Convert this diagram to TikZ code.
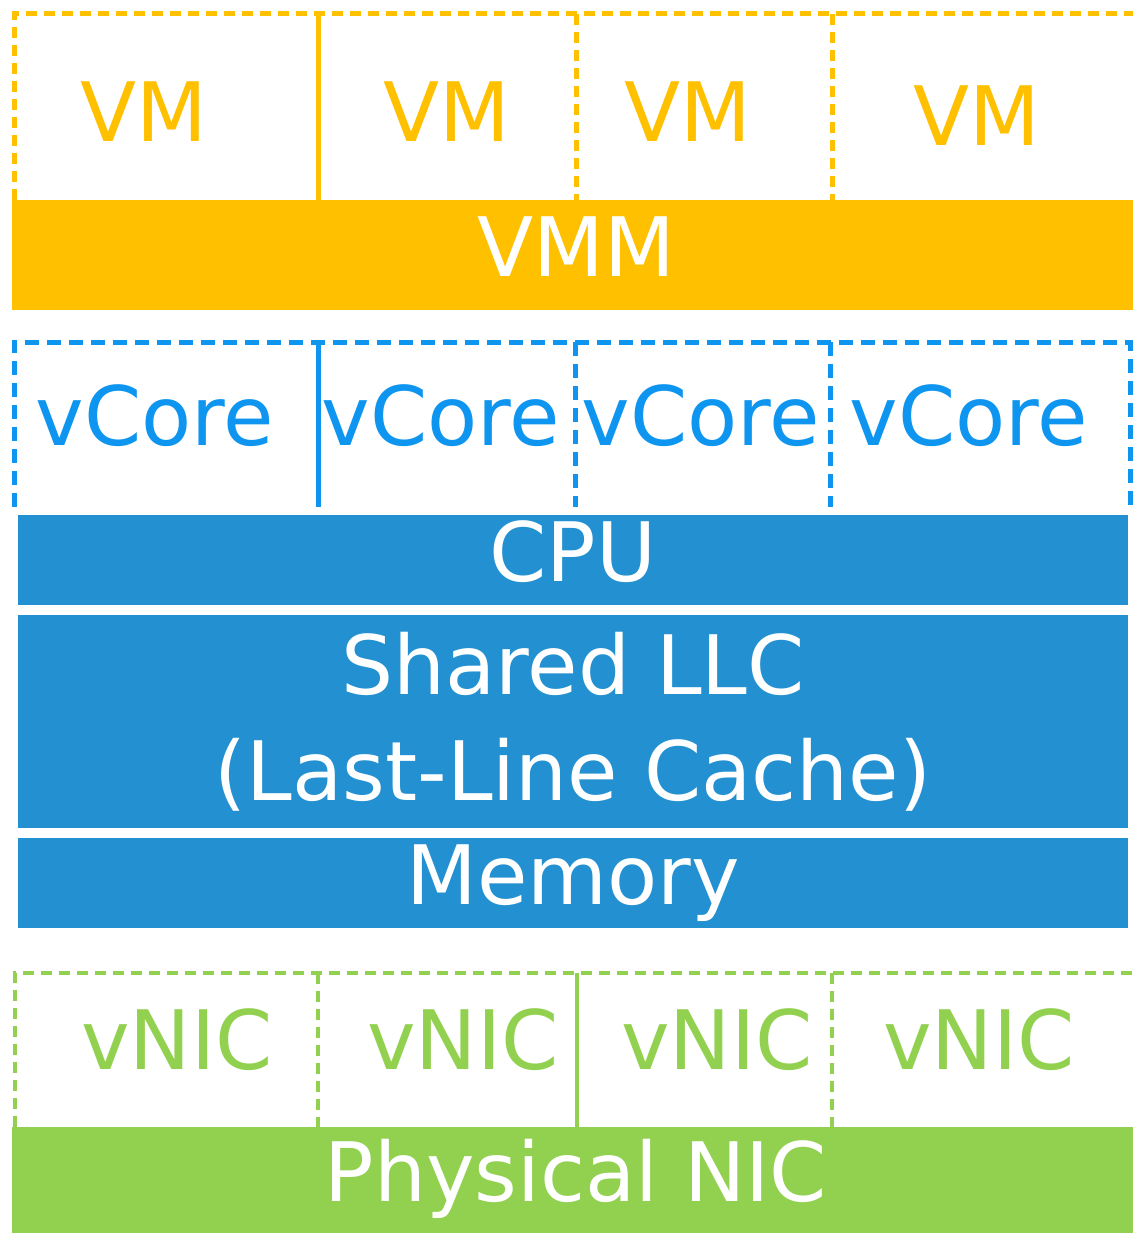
\documentclass[tikz,border=0pt]{standalone}
\usepackage{fontspec}
\setmainfont{DejaVu Sans}
\usepackage{xcolor}
\definecolor{vmyellow}{HTML}{FFC000}
\definecolor{coreblue}{HTML}{0E95EF}
\definecolor{hwblue}{HTML}{2290D1}
\definecolor{nicgreen}{HTML}{92D050}

\begin{document}
\begin{tikzpicture}[x=1pt, y=-1pt,
        bigtext/.style={font=\fontsize{82}{106}\selectfont},
        cell/.style={bigtext, inner sep=0pt},
        bar/.style={bigtext, text=white, inner sep=0pt, align=center},
        oneline/.style={text height=59pt, text depth=16pt},
        framedash/.style={line width=5pt, dash pattern=on 11pt off 7pt},
        solidline/.style={line width=5pt}]
            \useasboundingbox (0,0) rectangle (1132,1233);

            % VM row
            \draw[framedash, vmyellow] (14,200) -- (14,14) -- (1140,14);
            \draw[solidline, vmyellow] (318,14) -- (318,200);
            \draw[framedash, vmyellow] (576,14) -- (576,200);
            \draw[framedash, vmyellow] (832,14) -- (832,200);
            \node[cell, text=vmyellow] (vm1) at (144,112) {VM};
            \node[cell, text=vmyellow] (vm2) at (447,112) {VM};
            \node[cell, text=vmyellow] (vm3) at (688,112) {VM};
            \node[cell, text=vmyellow] (vm4) at (977,116) {VM};

            % VMM
            \node[bar, oneline, fill=vmyellow, minimum width=1128pt, minimum height=110pt] (vmm) at (576,255) {VMM};

            % vCore row
            \draw[framedash, coreblue, dash pattern=on 14pt off 8pt] (14,507) -- (14,342) -- (1130,342) -- (1130,507);
            \draw[solidline, coreblue] (318,342) -- (318,507);
            \draw[framedash, coreblue, dash pattern=on 14pt off 8pt] (575,342) -- (575,507);
            \draw[framedash, coreblue, dash pattern=on 14pt off 8pt] (830,342) -- (830,507);
            \node[cell, text=coreblue] (core1) at (155,416) {vCore};
            \node[cell, text=coreblue] (core2) at (441,416) {vCore};
            \node[cell, text=coreblue] (core3) at (701,416) {vCore};
            \node[cell, text=coreblue] (core4) at (969,416) {vCore};

            % Hardware
            \node[bar, oneline, fill=hwblue, minimum width=1110pt, minimum height=90pt] (cpu) at (573,560) {CPU};
            \node[bar, fill=hwblue, minimum width=1110pt, minimum height=213pt] (llc) at (573,721.5) {Shared LLC\\(Last-Line Cache)};
            \node[bar, oneline, fill=hwblue, minimum width=1110pt, minimum height=90pt] (mem) at (573,883) {Memory};

            % vNIC row
            \draw[framedash, nicgreen, line width=4pt] (15,1127) -- (15,973) -- (1140,973);
            \draw[framedash, nicgreen, line width=4pt] (318,973) -- (318,1127);
            \draw[solidline, nicgreen, line width=4pt] (577,973) -- (577,1127);
            \draw[framedash, nicgreen, line width=4pt] (832,973) -- (832,1127);
            \node[cell, text=nicgreen] (nic1) at (177,1040) {vNIC};
            \node[cell, text=nicgreen] (nic2) at (463,1040) {vNIC};
            \node[cell, text=nicgreen] (nic3) at (717,1040) {vNIC};
            \node[cell, text=nicgreen] (nic4) at (979,1040) {vNIC};

            % Physical NIC
            \node[bar, oneline, fill=nicgreen, minimum width=1128pt, minimum height=106pt] (pnic) at (576,1180) {Physical NIC};
        \end{tikzpicture}
\end{document}
